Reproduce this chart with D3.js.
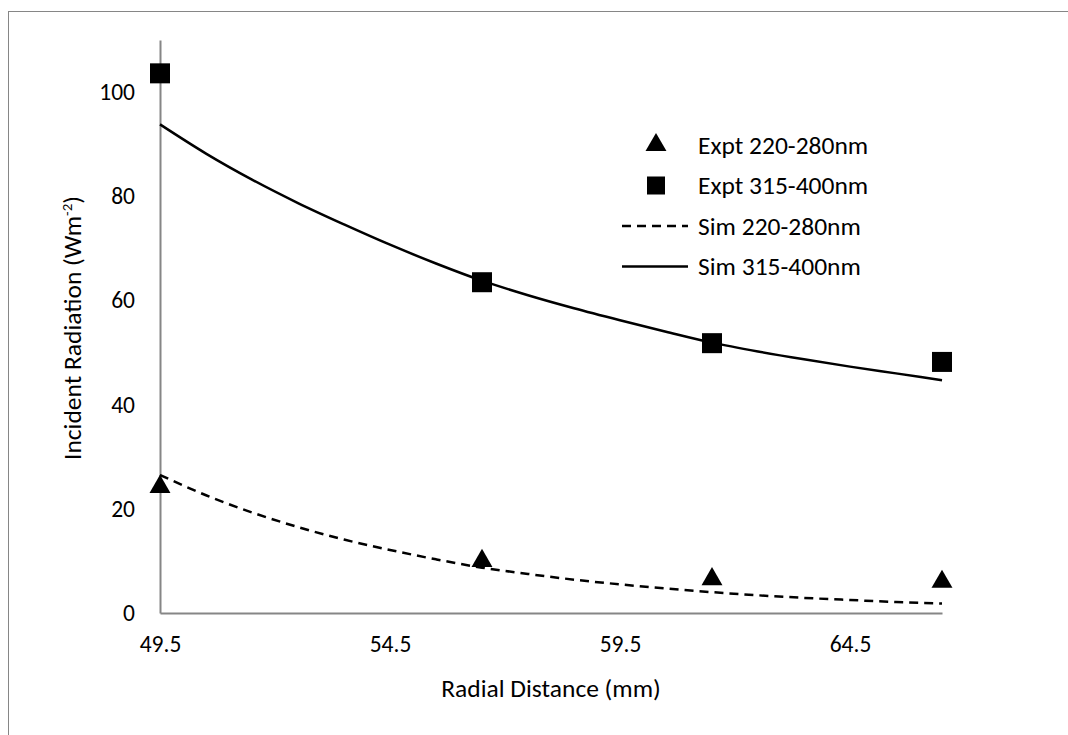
<!DOCTYPE html>
<html>
<head>
<meta charset="utf-8">
<script src="https://cdn.jsdelivr.net/npm/d3@7"></script>
<style>
  body { margin: 0; background: #fff; }
  svg text { font-family: Carlito, Calibri, Lato, "Open Sans", sans-serif; fill: #000; }
</style>
</head>
<body>
<div id="chart"></div>
<script>
// measured points
const exptX = [49.5, 56.5, 61.5, 66.5];
const expt220 = [24.2, 10.0, 6.5, 6.0];
const expt315 = [103.6, 63.5, 51.8, 48.2];

// simulated curves
const simX = [49.5, 50.5, 51.5, 52.5, 53.5, 54.5, 55.5, 56.5, 57.5, 58.5, 59.5, 60.5, 61.5, 62.5, 63.5, 64.5, 65.5, 66.5];
const sim220 = [26.5, 22.6, 19.3, 16.5, 14.1, 12.1, 10.3, 8.7, 7.5, 6.4, 5.5, 4.7, 4.0, 3.4, 2.9, 2.5, 2.1, 1.8];
const sim315 = [93.8, 88.2, 83.2, 78.7, 74.6, 70.7, 67.1, 63.8, 61.0, 58.5, 56.2, 54.0, 51.9, 50.2, 48.7, 47.3, 46.0, 44.7];

const xTicks = [49.5, 54.5, 59.5, 64.5];
const yTicks = [0, 20, 40, 60, 80, 100];
const legendLabels = ["Expt 220-280nm", "Expt 315-400nm", "Sim 220-280nm", "Sim 315-400nm"];

const width = 1068, height = 735;
const plot = { left: 160, right: 942, top: 40, bottom: 613 };
const axisColor = "#868686";
const tickFont = "23.5px";
const labelFont = "25.5px";

const svg = d3.select("#chart")
    .append("svg")
    .attr("width", width)
    .attr("height", height);

// chart area border
svg.append("rect")
    .attr("x", 8.5)
    .attr("y", 11.5)
    .attr("width", 1200)
    .attr("height", 900)
    .attr("fill", "none")
    .attr("stroke", axisColor)
    .attr("stroke-width", 1);

const x = d3.scaleLinear().domain([49.5, 66.5]).range([plot.left, plot.right]);
const y = d3.scaleLinear().domain([0, 110]).range([plot.bottom, plot.top]);

// x axis
const xAxis = svg.append("g")
    .attr("transform", `translate(0,${plot.bottom})`)
    .call(d3.axisBottom(x).tickValues(xTicks).tickSize(0).tickPadding(22).tickFormat(d3.format(".1f")));
xAxis.select(".domain").attr("stroke", axisColor).attr("stroke-width", 2);
xAxis.selectAll("text").attr("font-size", tickFont);

// y axis
const yAxis = svg.append("g")
    .attr("transform", `translate(${plot.left},0)`)
    .call(d3.axisLeft(y).tickValues(yTicks).tickSize(0).tickPadding(25));
yAxis.select(".domain").attr("stroke", axisColor).attr("stroke-width", 2);
yAxis.selectAll("text").attr("font-size", tickFont);

// axis titles
svg.append("text")
    .attr("x", (plot.left + plot.right) / 2)
    .attr("y", 697)
    .attr("text-anchor", "middle")
    .attr("font-size", labelFont)
    .text("Radial Distance (mm)");

const yTitle = svg.append("text")
    .attr("transform", "translate(81,328) rotate(-90)")
    .attr("text-anchor", "middle")
    .attr("font-size", labelFont);
yTitle.append("tspan").text("Incident Radiation (Wm");
yTitle.append("tspan").attr("font-size", "15px").attr("dy", "-9").text("-2");
yTitle.append("tspan").attr("dy", "9").text(")");

// sim lines
const line = d3.line()
    .x(d => x(d[0]))
    .y(d => y(d[1]))
    .curve(d3.curveMonotoneX);

svg.append("path")
    .datum(simX.map((v, i) => [v, sim220[i]]))
    .attr("d", line)
    .attr("fill", "none")
    .attr("stroke", "#000")
    .attr("stroke-width", 2.5)
    .attr("stroke-dasharray", "9,6");

svg.append("path")
    .datum(simX.map((v, i) => [v, sim315[i]]))
    .attr("d", line)
    .attr("fill", "none")
    .attr("stroke", "#000")
    .attr("stroke-width", 2.5);

// expt markers
const tri = d3.symbol().type(d3.symbolTriangle).size(190);
svg.selectAll(".tri")
    .data(exptX.map((v, i) => [v, expt220[i]]))
    .join("path")
    .attr("class", "tri")
    .attr("transform", d => `translate(${x(d[0])},${y(d[1])})`)
    .attr("d", tri)
    .attr("fill", "#000");

svg.selectAll(".sq")
    .data(exptX.map((v, i) => [v, expt315[i]]))
    .join("rect")
    .attr("class", "sq")
    .attr("x", d => x(d[0]) - 10)
    .attr("y", d => y(d[1]) - 10)
    .attr("width", 20)
    .attr("height", 20)
    .attr("fill", "#000");

// legend
const legend = svg.append("g").attr("transform", "translate(656,145)");
const rowH = 40.5;
legendLabels.forEach((lab, i) => {
    const g = legend.append("g").attr("transform", `translate(0,${i * rowH})`);
    if (i === 0) {
        g.append("path").attr("d", tri).attr("fill", "#000");
    } else if (i === 1) {
        g.append("rect").attr("x", -9).attr("y", -9).attr("width", 18).attr("height", 18).attr("fill", "#000");
    } else {
        g.append("line")
            .attr("x1", -34).attr("x2", 32)
            .attr("stroke", "#000")
            .attr("stroke-width", 2.5)
            .attr("stroke-dasharray", i === 2 ? "9,6" : null);
    }
    g.append("text")
        .attr("x", 42)
        .attr("dy", "0.35em")
        .attr("font-size", labelFont)
        .text(lab);
});
</script>
</body>
</html>
